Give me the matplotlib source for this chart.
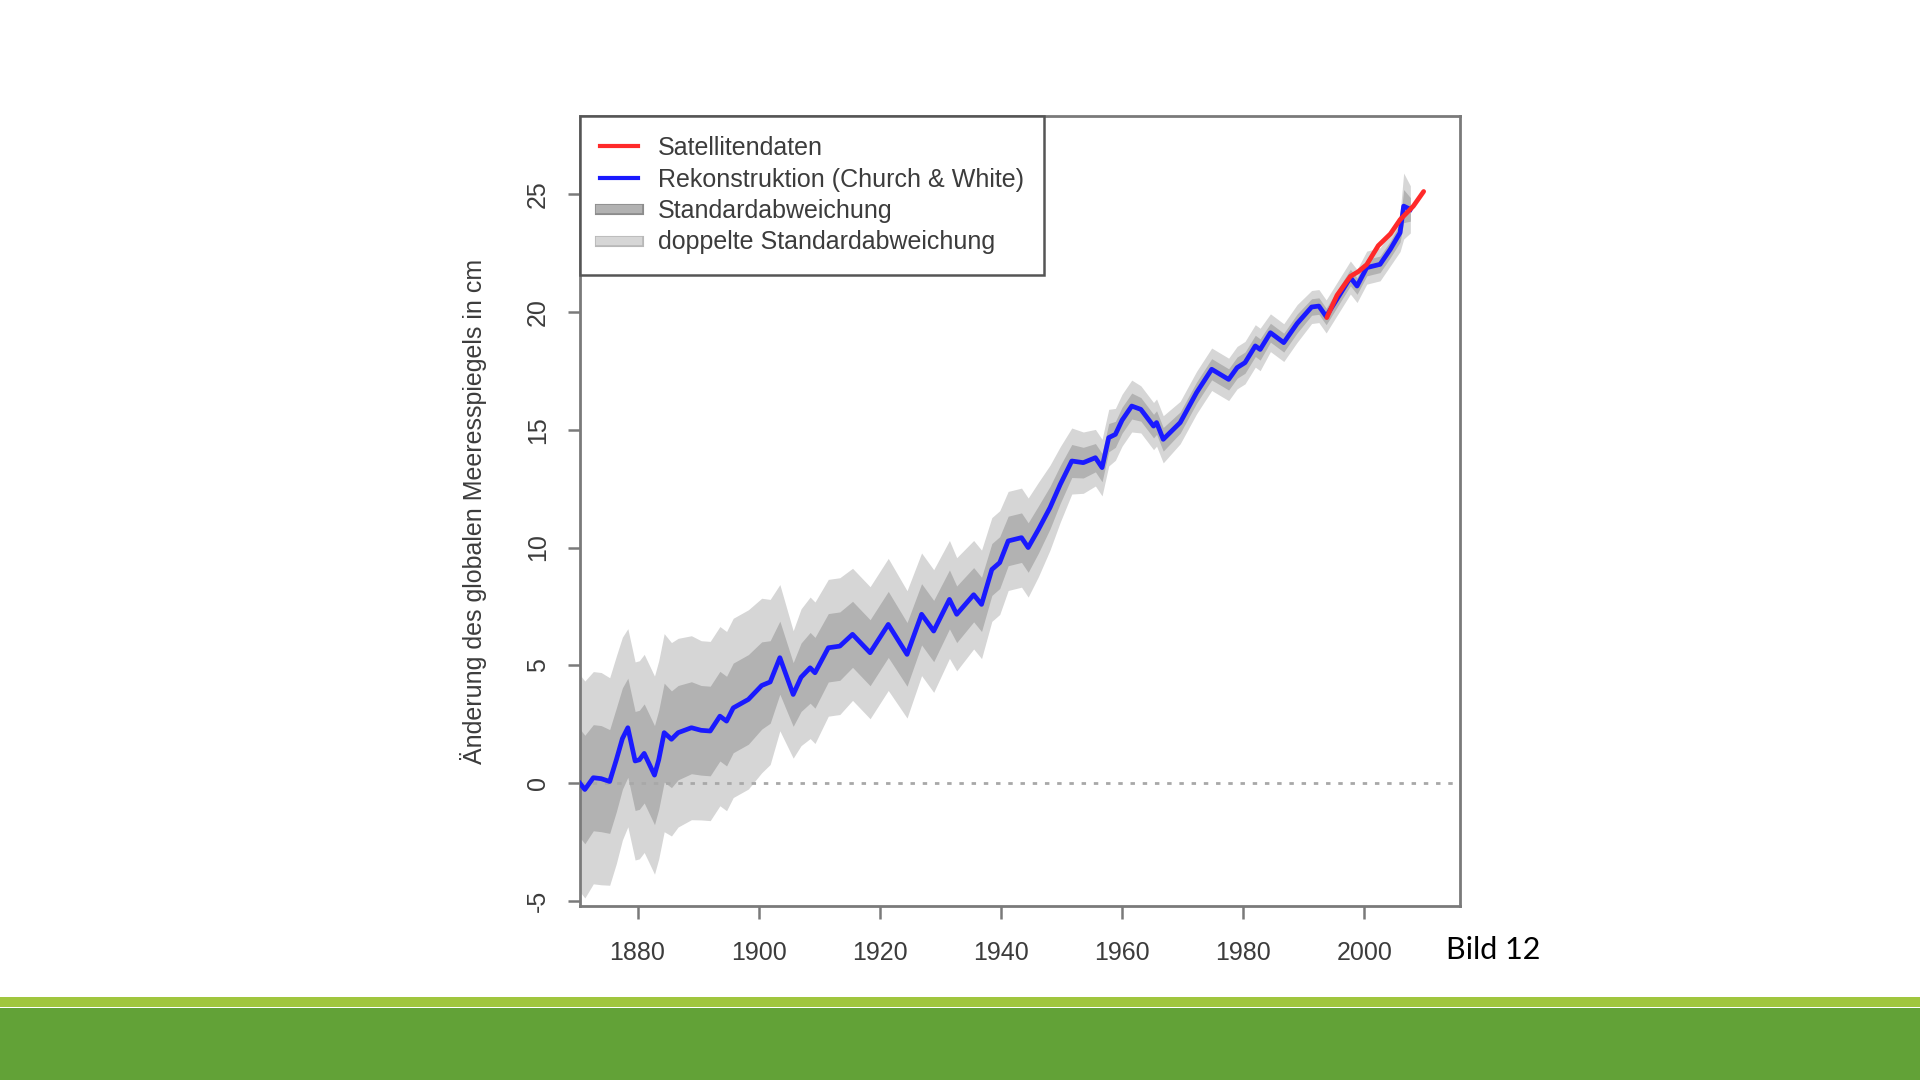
import matplotlib
matplotlib.use("Agg")
import matplotlib.pyplot as plt
import matplotlib.patheffects as pe
from matplotlib.lines import Line2D
import numpy as np

plt.rcParams['font.family'] = ['Liberation Sans', 'DejaVu Sans']

# ---- data ----
years_cw = [1870.5, 1871.3, 1872.7, 1874.0, 1875.4, 1876.5, 1877.5, 1878.4, 1879.6, 1880.3,
            1881.1, 1882.8, 1883.5, 1884.4, 1885.6, 1886.7, 1888.9, 1890.5, 1892.0, 1893.6,
            1894.7, 1895.8, 1898.3, 1900.5, 1901.9, 1903.5, 1905.7, 1907.0, 1908.5, 1909.3,
            1911.5, 1913.4, 1915.5, 1918.4, 1921.4, 1924.5, 1926.9, 1928.9, 1931.5, 1932.7,
            1935.5, 1936.8, 1938.5, 1939.8, 1941.2, 1943.4, 1944.5, 1946.2, 1948.1, 1949.8,
            1951.7, 1953.6, 1955.6, 1956.7, 1957.8, 1958.9, 1960.0, 1961.6, 1963.1, 1965.2,
            1965.7, 1966.8, 1969.6, 1972.3, 1974.8, 1977.6, 1979.0, 1980.3, 1982.0, 1982.8,
            1984.5, 1986.7, 1988.9, 1991.3, 1992.5, 1993.7, 1997.7, 1998.8, 2000.4, 2002.6,
            2004.3, 2005.9, 2006.5, 2007.6]
sealevel_cw = [0.0, -0.26, 0.24, 0.2, 0.08, 1.0, 1.9, 2.36, 0.95, 1.0,
               1.27, 0.35, 1.0, 2.15, 1.87, 2.15, 2.36, 2.25, 2.22, 2.85,
               2.64, 3.2, 3.56, 4.15, 4.3, 5.33, 3.77, 4.5, 4.9, 4.69,
               5.75, 5.82, 6.32, 5.54, 6.74, 5.47, 7.17, 6.46, 7.8, 7.17,
               8.0, 7.59, 9.07, 9.36, 10.28, 10.42, 10.0, 10.77, 11.69, 12.68,
               13.67, 13.6, 13.81, 13.39, 14.66, 14.8, 15.4, 16.0, 15.86, 15.15,
               15.3, 14.59, 15.3, 16.57, 17.56, 17.13, 17.63, 17.84, 18.55, 18.4,
               19.11, 18.69, 19.5, 20.2, 20.24, 19.8, 21.45, 21.09, 21.87, 22.01,
               22.65, 23.35, 24.48, 24.34]
sd_cw = [2.3, 2.3, 2.25, 2.25, 2.2, 2.2, 2.15, 2.1, 2.1, 2.1,
         2.1, 2.1, 2.1, 2.1, 2.05, 2.0, 1.95, 1.9, 1.9, 1.9,
         1.9, 1.9, 1.9, 1.85, 1.75, 1.55, 1.35, 1.45, 1.5, 1.5,
         1.45, 1.45, 1.4, 1.4, 1.4, 1.35, 1.3, 1.3, 1.25, 1.2,
         1.15, 1.15, 1.1, 1.1, 1.05, 1.05, 1.05, 1.0, 0.9, 0.8,
         0.7, 0.65, 0.6, 0.6, 0.6, 0.55, 0.55, 0.55, 0.5, 0.5,
         0.5, 0.5, 0.45, 0.45, 0.45, 0.45, 0.45, 0.45, 0.45, 0.45,
         0.4, 0.4, 0.4, 0.35, 0.35, 0.35, 0.35, 0.35, 0.35, 0.35,
         0.35, 0.4, 0.7, 0.5]

years_sat = [1993.8, 1995.5, 1997.7, 1999.0, 2000.4, 2002.3, 2004.3, 2005.9, 2008.1, 2009.8]
sealevel_sat = [19.75, 20.7, 21.5, 21.7, 22.0, 22.8, 23.3, 23.9, 24.48, 25.1]

xticks = [1880, 1900, 1920, 1940, 1960, 1980, 2000]
yticks = [-5, 0, 5, 10, 15, 20, 25]

legend_labels = ["Satellitendaten", "Rekonstruktion (Church & White)",
                 "Standardabweichung", "doppelte Standardabweichung"]
ylabel = "Änderung des globalen Meeresspiegels in cm"
slide_label = "Bild 12"

# ---- colours / styles ----
c_red = "#ff2a2a"
c_blue = "#1a1aff"
c_sd1 = "#b2b2b2"
c_sd2 = "#d6d6d6"
c_axis = "#7a7a7a"
c_text = "#3c3c3c"

fig = plt.figure(figsize=(19.2, 10.8), dpi=100)
fig.patch.set_facecolor("white")

# slide footer bars
fig.patches.append(plt.Rectangle((0, 1 - 1007 / 1080), 1, 10 / 1080, transform=fig.transFigure,
                                 facecolor="#a0c63e", edgecolor="none"))
fig.patches.append(plt.Rectangle((0, 0), 1, 1 - 1008 / 1080, transform=fig.transFigure,
                                 facecolor="#62a237", edgecolor="none"))

ax = fig.add_axes([580 / 1920, 1 - 906 / 1080, 880 / 1920, 790 / 1080])

y = np.array(sealevel_cw)
s = np.array(sd_cw)
ax.fill_between(years_cw, y - 2 * s, y + 2 * s, color=c_sd2, linewidth=0, zorder=1)
ax.fill_between(years_cw, y - s, y + s, color=c_sd1, linewidth=0, zorder=2)
ax.axhline(0, color="#a8a8a8", linewidth=2.0, dashes=(1.6, 2.8), zorder=3)
ax.plot(years_cw, sealevel_cw, color=c_blue, linewidth=3.4, zorder=4, solid_joinstyle="round")
ax.plot(years_sat, sealevel_sat, color=c_red, linewidth=3.4, zorder=5, solid_capstyle="round")

ax.set_xlim(1870.5, 2015.8)
ax.set_ylim(-5.2, 28.3)
ax.set_xticks(xticks)
ax.set_yticks(yticks)
ax.set_xticklabels([str(t) for t in xticks])
ax.set_yticklabels([str(t) for t in yticks], rotation=90, va="center")

for sp in ax.spines.values():
    sp.set_color(c_axis)
    sp.set_linewidth(2.0)
ax.tick_params(axis="both", colors=c_axis, width=1.8, length=9, labelsize=18,
               labelcolor=c_text)
ax.tick_params(axis="x", pad=16.5)
ax.tick_params(axis="y", pad=12.5)

ax.set_ylabel(ylabel, fontsize=18, color=c_text)
ax.yaxis.set_label_coords(-0.106, 0.5)

handles = [
    Line2D([0], [0], color=c_red, linewidth=3),
    Line2D([0], [0], color=c_blue, linewidth=3),
    Line2D([0], [0], color=c_sd1, linewidth=6,
           path_effects=[pe.Stroke(linewidth=8, foreground="#8c8c8c"), pe.Normal()]),
    Line2D([0], [0], color=c_sd2, linewidth=6,
           path_effects=[pe.Stroke(linewidth=8, foreground="#b8b8b8"), pe.Normal()]),
]
leg = ax.legend(handles, legend_labels, loc="upper left", borderaxespad=0,
                fontsize=18, frameon=True, fancybox=False, framealpha=1,
                borderpad=0.8, handlelength=1.5, handletextpad=0.8, labelspacing=0.3)
leg.get_frame().set_edgecolor("#555555")
leg.get_frame().set_linewidth(1.8)
for t in leg.get_texts():
    t.set_color(c_text)

fig.text(1446 / 1920, 1 - 950 / 1080, slide_label, fontsize=22, family=["Lato", "DejaVu Sans"],
         color="black", ha="left", va="center")

fig.savefig("out.png", dpi=100, facecolor="white")
